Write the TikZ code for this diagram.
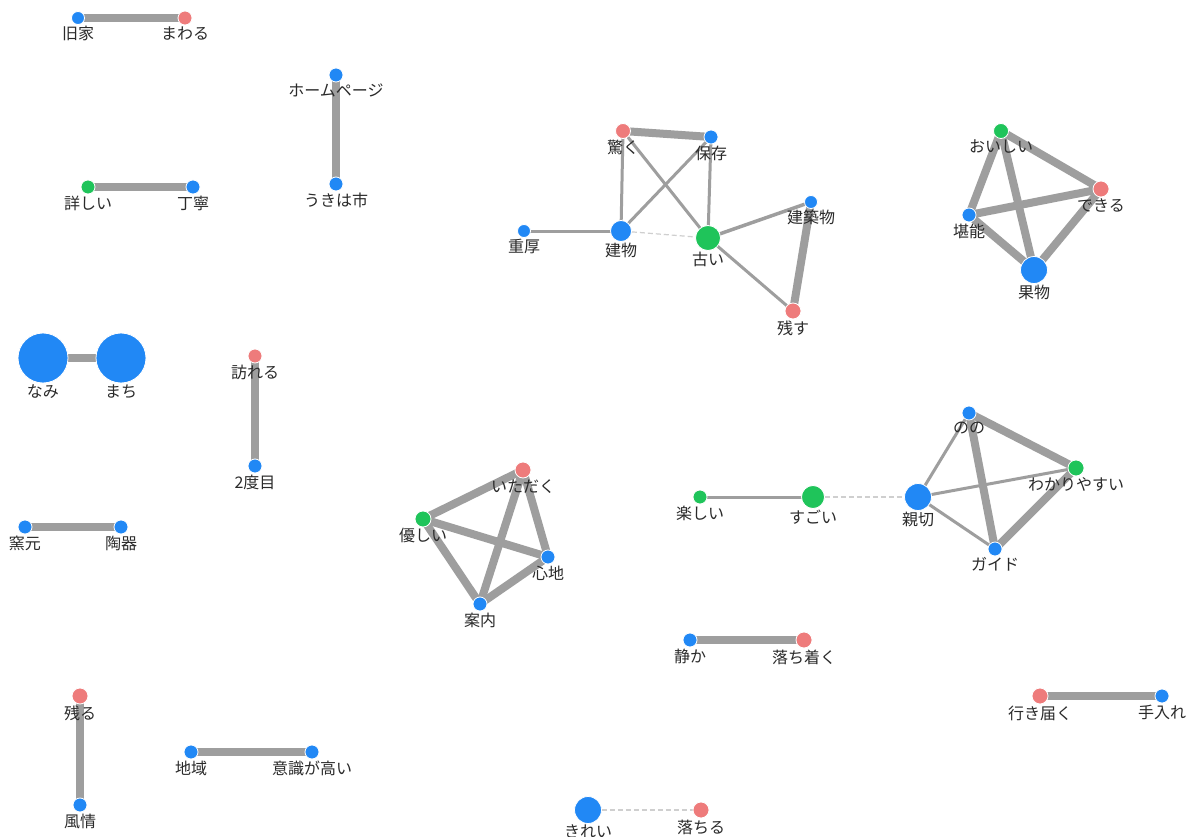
\documentclass[tikz,border=0pt]{standalone}
\usepackage{fontspec}
\newfontfamily\jp{Noto Sans CJK JP}
\usetikzlibrary{backgrounds}
\definecolor{nblue}{HTML}{2188F5}
\definecolor{nred}{HTML}{EE7B7B}
\definecolor{ngreen}{HTML}{1FC45A}
\definecolor{edgec}{HTML}{9E9E9E}
\definecolor{dashc}{HTML}{CFCFCF}
\definecolor{labc}{HTML}{2A2A2A}
\tikzset{
  vn/.style={circle,draw=white,line width=0.8pt,inner sep=0pt,minimum size=#1},
  vn/.default=14pt,
  bl/.style={fill=nblue},
  rd/.style={fill=nred},
  gr/.style={fill=ngreen},
  lab/.style={font=\jp\fontsize{16}{18}\selectfont,text=labc,inner sep=0pt,label distance=1pt},
  wide/.style={draw=edgec,line width=8pt},
  mid/.style={draw=edgec,line width=3.5pt},
  thin/.style={draw=edgec,line width=3pt},
  dsh/.style={draw=dashc,line width=1.2pt,dash pattern=on 5pt off 3pt},
}
\begin{document}
\begin{tikzpicture}[x=1pt,y=-1pt]
\useasboundingbox (0,0) rectangle (1191,837);
% pairs
\node[vn=13pt,bl,label={[lab]below:旧家}] (kyuka) at (78,18) {};
\node[vn,rd,label={[lab]below:まわる}] (mawaru) at (185,18) {};
\node[vn,bl,label={[lab]below:ホームページ}] (hp) at (336,75) {};
\node[vn,bl,label={[lab]below:うきは市}] (ukiha) at (336,184) {};
\node[vn,gr,label={[lab]below:詳しい}] (kuwashii) at (88,187) {};
\node[vn,bl,label={[lab]below:丁寧}] (teinei) at (193,187) {};
\node[vn=50pt,bl,label={[lab]below:なみ}] (nami) at (43,358) {};
\node[vn=50pt,bl,label={[lab]below:まち}] (machi) at (121,358) {};
\node[vn,rd,label={[lab]below:訪れる}] (otozureru) at (255,356) {};
\node[vn,bl,label={[lab]below:2度目}] (nidome) at (255,466) {};
\node[vn,bl,label={[lab]below:窯元}] (kamamoto) at (25,527) {};
\node[vn,bl,label={[lab]below:陶器}] (touki) at (121,527) {};
\node[vn=16pt,rd,label={[lab]below:残る}] (nokoru) at (80,696) {};
\node[vn,bl,label={[lab]below:風情}] (fuzei) at (80,805) {};
\node[vn,bl,label={[lab]below:地域}] (chiiki) at (191,752) {};
\node[vn,bl,label={[lab]below:意識が高い}] (ishiki) at (312,752) {};
\node[vn,bl,label={[lab]below:静か}] (shizuka) at (690,640) {};
\node[vn=16pt,rd,label={[lab]below:落ち着く}] (ochitsuku) at (804,640) {};
\node[vn=16pt,rd,label={[lab]below:行き届く}] (ikitodoku) at (1040,696) {};
\node[vn,bl,label={[lab]below:手入れ}] (teire) at (1162,696) {};
\node[vn=27pt,bl,label={[lab]below:きれい}] (kirei) at (588,810) {};
\node[vn=16pt,rd,label={[lab]below:落ちる}] (ochiru) at (701,810) {};
% cluster 1
\node[vn=15pt,rd,label={[lab]below:驚く}] (odoroku) at (623,131) {};
\node[vn,bl,label={[lab]below:保存}] (hozon) at (711,137) {};
\node[vn=13pt,bl,label={[lab]below:重厚}] (juko) at (524,231) {};
\node[vn=21pt,bl,label={[lab]below:建物}] (tatemono) at (621,231) {};
\node[vn=25pt,gr,label={[lab]below:古い}] (furui) at (708,238) {};
\node[vn=13pt,bl,label={[lab]below:建築物}] (kenchiku) at (811,202) {};
\node[vn=16pt,rd,label={[lab]below:残す}] (nokosu) at (793,311) {};
% cluster 2
\node[vn=15pt,gr,label={[lab]below:おいしい}] (oishii) at (1001,131) {};
\node[vn=16pt,rd,label={[lab]below:できる}] (dekiru) at (1101,189) {};
\node[vn,bl,label={[lab]below:堪能}] (tannou) at (969,215) {};
\node[vn=27pt,bl,label={[lab]below:果物}] (kudamono) at (1034,270) {};
% cluster 3
\node[vn=16pt,rd,label={[lab]below:いただく}] (itadaku) at (523,470) {};
\node[vn=16pt,gr,label={[lab]below:優しい}] (yasashii) at (423,519) {};
\node[vn,bl,label={[lab]below:心地}] (kokochi) at (548,557) {};
\node[vn,bl,label={[lab]below:案内}] (annai) at (480,604) {};
% cluster 4
\node[vn,gr,label={[lab]below:楽しい}] (tanoshii) at (700,497) {};
\node[vn=23pt,gr,label={[lab]below:すごい}] (sugoi) at (813,497) {};
\node[vn=27pt,bl,label={[lab]below:親切}] (shinsetsu) at (918,497) {};
\node[vn,bl,label={[lab]below:のの}] (nono) at (969,413) {};
\node[vn=16pt,gr,label={[lab]below:わかりやすい}] (wakari) at (1076,468) {};
\node[vn,bl,label={[lab]below:ガイド}] (guide) at (995,549) {};
\begin{pgfonlayer}{background}
\fill[white] (0,0) rectangle (1191,837);
\draw[wide] (kyuka.center) -- (mawaru.center);
\draw[wide] (hp.center) -- (ukiha.center);
\draw[wide] (kuwashii.center) -- (teinei.center);
\draw[wide] (nami.center) -- (machi.center);
\draw[wide] (otozureru.center) -- (nidome.center);
\draw[wide] (kamamoto.center) -- (touki.center);
\draw[wide] (nokoru.center) -- (fuzei.center);
\draw[wide] (chiiki.center) -- (ishiki.center);
\draw[wide] (shizuka.center) -- (ochitsuku.center);
\draw[wide] (ikitodoku.center) -- (teire.center);
\draw[dsh] (kirei) -- (ochiru);
% cluster 1
\draw[wide] (odoroku.center) -- (hozon.center);
\draw[thin] (odoroku.center) -- (tatemono.center);
\draw[thin] (odoroku.center) -- (furui.center);
\draw[thin] (hozon.center) -- (tatemono.center);
\draw[thin] (hozon.center) -- (furui.center);
\draw[thin] (juko.center) -- (tatemono.center);
\draw[dsh] (tatemono) -- (furui);
\draw[mid] (furui.center) -- (kenchiku.center);
\draw[thin] (furui.center) -- (nokosu.center);
\draw[wide] (kenchiku.center) -- (nokosu.center);
% cluster 2
\draw[wide] (oishii.center) -- (dekiru.center);
\draw[wide] (oishii.center) -- (tannou.center);
\draw[wide] (oishii.center) -- (kudamono.center);
\draw[wide] (dekiru.center) -- (tannou.center);
\draw[wide] (dekiru.center) -- (kudamono.center);
\draw[wide] (tannou.center) -- (kudamono.center);
% cluster 3
\draw[wide] (itadaku.center) -- (yasashii.center);
\draw[wide] (itadaku.center) -- (kokochi.center);
\draw[wide] (itadaku.center) -- (annai.center);
\draw[wide] (yasashii.center) -- (kokochi.center);
\draw[wide] (yasashii.center) -- (annai.center);
\draw[wide] (kokochi.center) -- (annai.center);
% cluster 4
\draw[thin] (tanoshii.center) -- (sugoi.center);
\draw[dsh] (sugoi) -- (shinsetsu);
\draw[thin] (shinsetsu.center) -- (nono.center);
\draw[thin] (shinsetsu.center) -- (wakari.center);
\draw[thin] (shinsetsu.center) -- (guide.center);
\draw[wide] (nono.center) -- (wakari.center);
\draw[wide] (nono.center) -- (guide.center);
\draw[wide] (wakari.center) -- (guide.center);
\end{pgfonlayer}
\end{tikzpicture}
\end{document}
